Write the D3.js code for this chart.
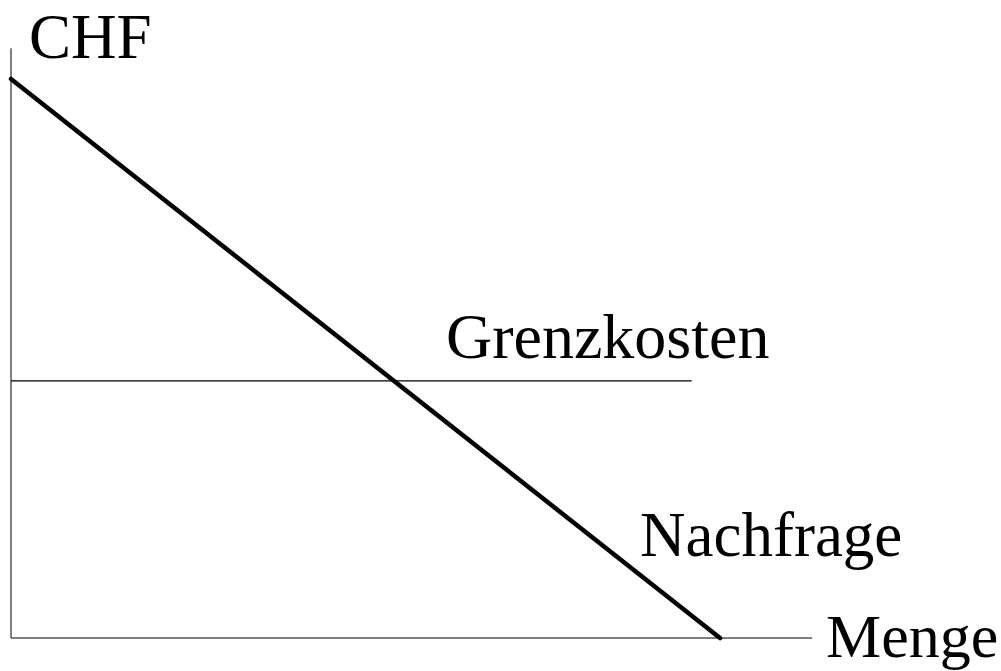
<!DOCTYPE html>
<html>
<head>
<meta charset="utf-8">
<script src="https://cdn.jsdelivr.net/npm/d3@7"></script>
<style>
  body { margin: 0; background: #fff; }
  text { font-family: "Liberation Serif", "Times New Roman", serif; fill: #000; }
</style>
</head>
<body>
<div id="chart"></div>
<script>
// quantity / price in arbitrary units
var demandQ = [0, 100];
var demandP = [100, 0];
var mcQ = [0, 96];
var mcP = [46, 46];
var axisMaxQ = 113;
var axisMaxP = 105.5;
var labels = ["CHF", "Grenzkosten", "Nachfrage", "Menge"];

var width = 1001,
    height = 671;

var x = d3.scaleLinear().domain([0, 100]).range([11, 720]);
var y = d3.scaleLinear().domain([0, 100]).range([638, 79]);

var svg = d3.select("#chart").append("svg")
  .attr("width", width)
  .attr("height", height);

// axes (plain lines, no ticks)
svg.append("line")
  .attr("x1", x(0)).attr("y1", y(0))
  .attr("x2", x(0)).attr("y2", y(axisMaxP))
  .attr("stroke", "#000").attr("stroke-width", 1);
svg.append("line")
  .attr("x1", x(0)).attr("y1", y(0))
  .attr("x2", x(axisMaxQ)).attr("y2", y(0))
  .attr("stroke", "#000").attr("stroke-width", 1);

var line = d3.line()
  .x(function(d) { return x(d[0]); })
  .y(function(d) { return y(d[1]); });

svg.append("path")
  .datum(d3.zip(mcQ, mcP))
  .attr("d", line)
  .attr("fill", "none")
  .attr("stroke", "#000")
  .attr("stroke-width", 1.2);

svg.append("path")
  .datum(d3.zip(demandQ, demandP))
  .attr("d", line)
  .attr("fill", "none")
  .attr("stroke", "#000")
  .attr("stroke-width", 4.5)
  .attr("stroke-linecap", "round");

svg.append("text").attr("x", 29).attr("y", 58)
  .style("font-size", "63px").text(labels[0]);
svg.append("text").attr("x", 446).attr("y", 358)
  .style("font-size", "64px").text(labels[1]);
svg.append("text").attr("x", 640).attr("y", 556)
  .style("font-size", "63px").text(labels[2]);
svg.append("text").attr("x", 826).attr("y", 657)
  .style("font-size", "62px").text(labels[3]);
</script>
</body>
</html>
